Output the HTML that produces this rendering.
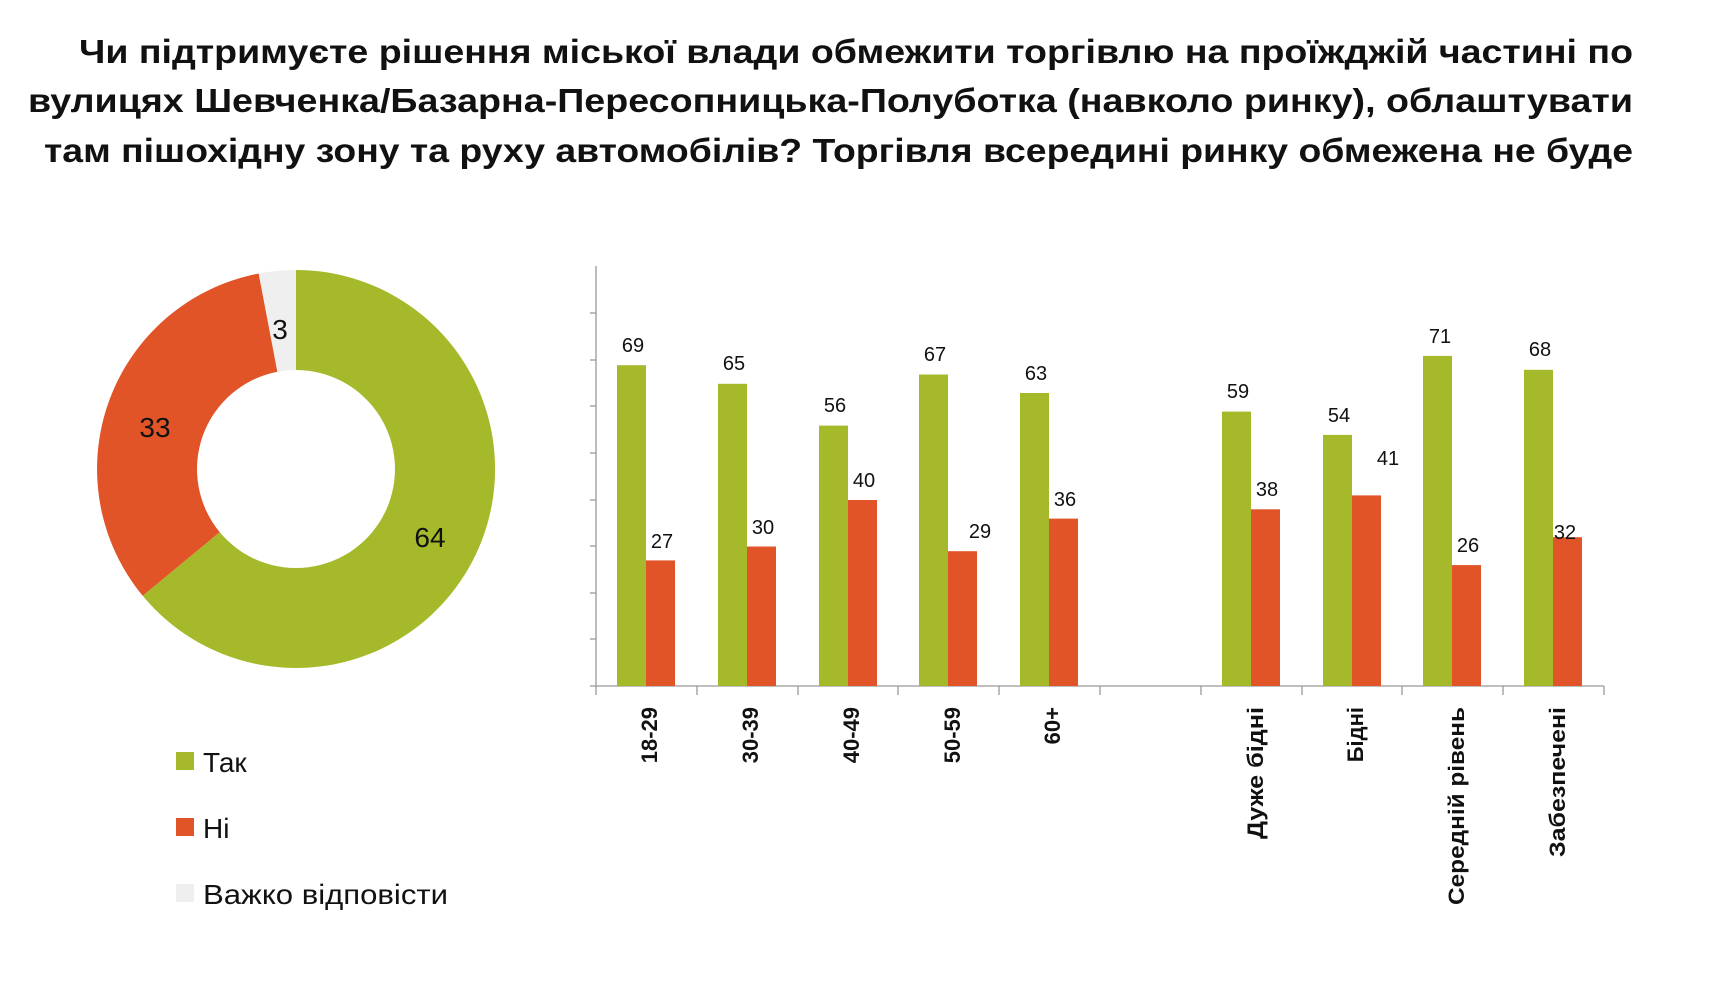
<!DOCTYPE html>
<html><head><meta charset="utf-8"><style>
html,body{margin:0;padding:0;background:#fff;}
svg{display:block;font-family:"Liberation Sans",sans-serif;}
</style></head><body>
<svg width="1726" height="984" viewBox="0 0 1726 984" xmlns="http://www.w3.org/2000/svg">
<g font-weight="bold" font-size="33" fill="#111" text-anchor="end">
<text x="1633" y="63" textLength="1554" lengthAdjust="spacingAndGlyphs">Чи підтримуєте рішення міської влади обмежити торгівлю на проїжджій частині по</text>
<text x="1633" y="112" textLength="1605" lengthAdjust="spacingAndGlyphs">вулицях Шевченка/Базарна-Пересопницька-Полуботка (навколо ринку), облаштувати</text>
<text x="1633" y="162" textLength="1589" lengthAdjust="spacingAndGlyphs">там пішохідну зону та руху автомобілів? Торгівля всередині ринку обмежена не буде</text>
</g>
<!-- donut -->
<path d="M296,270 A199 199 0 1 1 142.7,595.8 L219.7,532.1 A99 99 0 1 0 296,370 Z" fill="#a6b92b"/>
<path d="M142.7,595.8 A199 199 0 0 1 258.7,273.5 L277.4,371.8 A99 99 0 0 0 219.7,532.1 Z" fill="#e05428"/>
<path d="M258.7,273.5 A199 199 0 0 1 296,270 L296,370 A99 99 0 0 0 277.4,371.8 Z" fill="#efefef"/>
<g font-size="28" fill="#111" text-anchor="middle">
<text x="430" y="547">64</text>
<text x="155" y="437">33</text>
<text x="280" y="339">3</text>
</g>
<!-- legend -->
<rect x="176" y="752" width="18" height="18" fill="#a6b92b"/>
<rect x="176" y="818" width="18" height="18" fill="#e05428"/>
<rect x="176" y="884" width="18" height="18" fill="#efefef"/>
<g font-size="28" fill="#111">
<text x="203" y="772">Так</text>
<text x="203" y="838">Ні</text>
<text x="203" y="904" textLength="245" lengthAdjust="spacingAndGlyphs">Важко відповісти</text>
</g>
<!-- axes -->
<g stroke="#999" stroke-width="1.3">
<line x1="596" y1="266" x2="596" y2="686"/>
<line x1="596" y1="686" x2="1604" y2="686"/>
<line x1="590" y1="313" x2="596" y2="313"/><line x1="590" y1="360" x2="596" y2="360"/>
<line x1="590" y1="406" x2="596" y2="406"/><line x1="590" y1="453" x2="596" y2="453"/>
<line x1="590" y1="500" x2="596" y2="500"/><line x1="590" y1="546" x2="596" y2="546"/>
<line x1="590" y1="593" x2="596" y2="593"/><line x1="590" y1="639" x2="596" y2="639"/>
<line x1="590" y1="686" x2="596" y2="686"/>
<line x1="596" y1="686" x2="596" y2="695"/><line x1="697" y1="686" x2="697" y2="695"/>
<line x1="798" y1="686" x2="798" y2="695"/><line x1="898" y1="686" x2="898" y2="695"/>
<line x1="999" y1="686" x2="999" y2="695"/><line x1="1100" y1="686" x2="1100" y2="695"/>
<line x1="1201" y1="686" x2="1201" y2="695"/><line x1="1302" y1="686" x2="1302" y2="695"/>
<line x1="1402" y1="686" x2="1402" y2="695"/><line x1="1503" y1="686" x2="1503" y2="695"/>
<line x1="1604" y1="686" x2="1604" y2="695"/>
</g>
<!-- bars -->
<g>
<rect x="617" y="365.2" width="29" height="320.8" fill="#a6b92b"/><rect x="646" y="560.4" width="29" height="125.6" fill="#e05428"/>
<rect x="718" y="383.8" width="29" height="302.2" fill="#a6b92b"/><rect x="747" y="546.5" width="29" height="139.5" fill="#e05428"/>
<rect x="819" y="425.6" width="29" height="260.4" fill="#a6b92b"/><rect x="848" y="500" width="29" height="186" fill="#e05428"/>
<rect x="919" y="374.5" width="29" height="311.5" fill="#a6b92b"/><rect x="948" y="551.2" width="29" height="134.8" fill="#e05428"/>
<rect x="1020" y="393" width="29" height="293" fill="#a6b92b"/><rect x="1049" y="518.6" width="29" height="167.4" fill="#e05428"/>
<rect x="1222" y="411.6" width="29" height="274.4" fill="#a6b92b"/><rect x="1251" y="509.3" width="29" height="176.7" fill="#e05428"/>
<rect x="1323" y="434.9" width="29" height="251.1" fill="#a6b92b"/><rect x="1352" y="495.4" width="29" height="190.6" fill="#e05428"/>
<rect x="1423" y="355.9" width="29" height="330.1" fill="#a6b92b"/><rect x="1452" y="565.1" width="29" height="120.9" fill="#e05428"/>
<rect x="1524" y="369.8" width="29" height="316.2" fill="#a6b92b"/><rect x="1553" y="537.2" width="29" height="148.8" fill="#e05428"/>
</g>
<g font-size="20" fill="#111" text-anchor="middle">
<text x="633" y="352">69</text><text x="662" y="548">27</text>
<text x="734" y="370">65</text><text x="763" y="534">30</text>
<text x="835" y="412">56</text><text x="864" y="487">40</text>
<text x="935" y="361">67</text><text x="980" y="538">29</text>
<text x="1036" y="380">63</text><text x="1065" y="506">36</text>
<text x="1238" y="398">59</text><text x="1267" y="496">38</text>
<text x="1339" y="422">54</text><text x="1388" y="465">41</text>
<text x="1440" y="343">71</text><text x="1468" y="552">26</text>
<text x="1540" y="356">68</text><text x="1565" y="539">32</text>
</g>
<g font-size="22" font-weight="bold" fill="#111" text-anchor="end">
<text transform="translate(657,707) rotate(-90)">18-29</text>
<text transform="translate(758,707) rotate(-90)">30-39</text>
<text transform="translate(859,707) rotate(-90)">40-49</text>
<text transform="translate(960,707) rotate(-90)">50-59</text>
<text transform="translate(1060,707) rotate(-90)">60+</text>
<text transform="translate(1263,707) rotate(-90)" textLength="132" lengthAdjust="spacingAndGlyphs">Дуже бідні</text>
<text transform="translate(1363,707) rotate(-90)">Бідні</text>
<text transform="translate(1464,707) rotate(-90)" textLength="198" lengthAdjust="spacingAndGlyphs">Середній рівень</text>
<text transform="translate(1565,707) rotate(-90)" textLength="150" lengthAdjust="spacingAndGlyphs">Забезпечені</text>
</g>
</svg>
</body></html>
